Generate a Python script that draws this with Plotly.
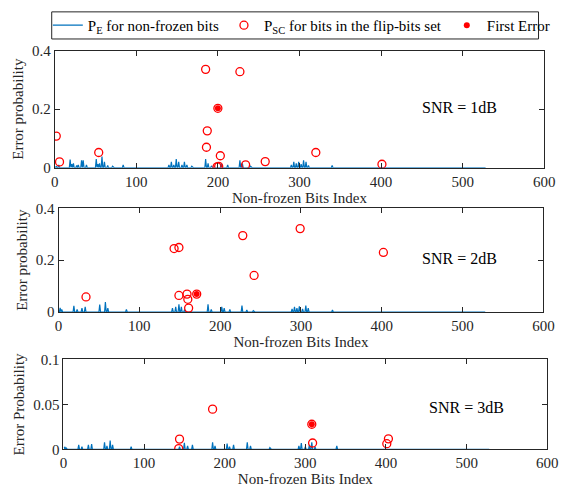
import plotly.graph_objects as go

# ---------------- data ----------------
n_bits = 528
bit_index = list(range(1, n_bits + 1))

# Peaks of P_E (non-frozen bit error probability); all other bits are ~0
pe_idx_1db = [2, 5, 19, 21, 23, 27, 29, 33, 35, 39, 51, 53, 55, 58, 61, 65, 71, 84,
              140, 143, 146, 149, 152, 156, 159, 162, 168, 185, 188, 192, 204, 212,
              227, 230, 240, 290, 293, 296, 299, 302, 305, 308, 311, 340]
pe_val_1db = [0.005, 0.01, 0.028, 0.012, 0.015, 0.008, 0.01, 0.025, 0.025, 0.01, 0.03,
              0.012, 0.015, 0.038, 0.02, 0.008, 0.005, 0.01, 0.01, 0.02, 0.01, 0.03,
              0.02, 0.01, 0.02, 0.01, 0.005, 0.03, 0.015, 0.005, 0.015, 0.01, 0.025,
              0.015, 0.005, 0.01, 0.02, 0.015, 0.02, 0.012, 0.025, 0.02, 0.008, 0.008]

pe_idx_2db = [2, 4, 19, 23, 29, 33, 51, 58, 61, 84, 141, 145, 149, 152, 156, 185, 189,
              202, 205, 212, 227, 233, 241, 289, 292, 295, 298, 302, 306, 309, 339]
pe_val_2db = [0.016, 0.01, 0.024, 0.01, 0.015, 0.02, 0.029, 0.038, 0.015, 0.01, 0.015,
              0.02, 0.03, 0.02, 0.01, 0.03, 0.01, 0.02, 0.015, 0.01, 0.025, 0.008, 0.005,
              0.012, 0.02, 0.015, 0.022, 0.012, 0.025, 0.015, 0.008]

pe_idx_3db = [1, 3, 19, 23, 31, 35, 51, 54, 58, 61, 84, 144, 150, 154, 160, 185, 188,
              203, 206, 211, 228, 232, 256, 292, 295, 300, 305, 308, 312, 339]
pe_val_3db = [0.003, 0.002, 0.005, 0.003, 0.005, 0.006, 0.008, 0.004, 0.010, 0.005,
              0.003, 0.003, 0.0075, 0.004, 0.005, 0.008, 0.004, 0.0065, 0.003, 0.005,
              0.008, 0.004, 0.002, 0.004, 0.007, 0.003, 0.005, 0.008, 0.003, 0.004]

# P_SC for bits in the flip-bits set
psc_idx_1db = [2, 6, 54, 185, 186, 187, 199, 200, 201, 203, 227, 234, 258, 320, 401]
psc_val_1db = [0.108, 0.020, 0.052, 0.336, 0.070, 0.126, 0.003, 0.203, 0.005, 0.041,
               0.328, 0.010, 0.021, 0.052, 0.012]

psc_idx_2db = [34, 143, 149, 149, 159, 160, 161, 171, 228, 242, 299, 402]
psc_val_2db = [0.058, 0.245, 0.249, 0.064, 0.069, 0.049, 0.015, 0.069, 0.295, 0.141,
               0.322, 0.230]

psc_idx_3db = [143, 144, 185, 308, 309, 401, 403]
psc_val_3db = [0.001, 0.0115, 0.0448, 0.028, 0.0072, 0.0064, 0.0118]

# First error position
first_idx = [200, 171, 308]
first_val = [0.203, 0.069, 0.028]

snr_labels = ["SNR = 1dB", "SNR = 2dB", "SNR = 3dB"]
y_titles = ["Error probability", "Error probability", "Error Probability"]
y_ranges = [[0, 0.4], [0, 0.4], [0, 0.1]]
y_ticks = [[0, 0.2, 0.4], [0, 0.2, 0.4], [0, 0.05, 0.1]]
y_ticktext = [["0", "0.2", "0.4"], ["0", "0.2", "0.4"], ["0", "0.05", "0.1"]]
x_ticks = [0, 100, 200, 300, 400, 500, 600]


def pe_curve(idx, val):
    curve = [0.0] * n_bits
    for i, v in zip(idx, val):
        curve[i - 1] = v
    return curve


pe_sets = [pe_curve(pe_idx_1db, pe_val_1db),
           pe_curve(pe_idx_2db, pe_val_2db),
           pe_curve(pe_idx_3db, pe_val_3db)]
psc_sets = [(psc_idx_1db, psc_val_1db), (psc_idx_2db, psc_val_2db),
            (psc_idx_3db, psc_val_3db)]

# ---------------- layout geometry (pixels) ----------------
W, H = 569, 502
panels = [  # left, right, top, bottom
    (52, 555, 44, 165),
    (56, 554, 207, 314),
    (61, 558, 363, 456),
]
snr_pos = [(468, 103), (468, 259), (475, 413)]
legend_box = (49, 549, 4, 32)  # left, right, top, bottom

FONT = "Liberation Serif, Times New Roman, serif"
AX = "#262626"
BLUE = "#0072BD"
RED = "#FF0000"

fig = go.Figure()

for k in range(3):
    xa = "x" if k == 0 else f"x{k+1}"
    ya = "y" if k == 0 else f"y{k+1}"
    show = k == 0
    fig.add_trace(go.Scatter(
        x=bit_index, y=pe_sets[k], mode="lines", xaxis=xa, yaxis=ya,
        line=dict(color=BLUE, width=1.2),
        name="P<sub>E</sub> for non-frozen bits", showlegend=show))
    fig.add_trace(go.Scatter(
        x=psc_sets[k][0], y=psc_sets[k][1], mode="markers", xaxis=xa, yaxis=ya,
        marker=dict(symbol="circle-open", size=8, color=RED, line=dict(width=1.3)),
        name="P<sub>SC</sub> for bits in the flip-bits set", showlegend=show))
    fig.add_trace(go.Scatter(
        x=[first_idx[k]], y=[first_val[k]], mode="markers", xaxis=xa, yaxis=ya,
        marker=dict(symbol="circle", size=6, color=RED),
        name="First Error", showlegend=show))

lb_l, lb_r, lb_t, lb_b = legend_box
layout = dict(
    width=W, height=H,
    margin=dict(l=0, r=0, t=0, b=0),
    paper_bgcolor="white", plot_bgcolor="white",
    font=dict(family=FONT, size=15, color=AX),
    legend=dict(orientation="h", x=(lb_l - 4) / W, xanchor="left",
                y=1 - (lb_t + lb_b) / 2 / H, yanchor="middle",
                borderwidth=0, bgcolor="rgba(0,0,0,0)",
                font=dict(family=FONT, size=15, color="black"),
                itemwidth=30, tracegroupgap=0),
    shapes=[dict(type="rect", xref="paper", yref="paper",
                 x0=lb_l / W, x1=lb_r / W, y0=1 - lb_b / H, y1=1 - lb_t / H,
                 line=dict(color=AX, width=1), fillcolor="rgba(0,0,0,0)")],
    annotations=[],
)

for k, (l, r, t, b) in enumerate(panels):
    xkey = "xaxis" if k == 0 else f"xaxis{k+1}"
    ykey = "yaxis" if k == 0 else f"yaxis{k+1}"
    ya = "y" if k == 0 else f"y{k+1}"
    xa = "x" if k == 0 else f"x{k+1}"
    common = dict(showline=True, linecolor=AX, linewidth=1, mirror="ticks",
                  ticks="inside", ticklen=5, tickcolor=AX, showgrid=False,
                  zeroline=False, tickfont=dict(family=FONT, size=15, color=AX))
    layout[xkey] = dict(domain=[l / W, r / W], anchor=ya, range=[0, 600],
                        tickvals=x_ticks, title=dict(text="Non-frozen Bits Index",
                        font=dict(family=FONT, size=15, color=AX), standoff=2),
                        **common)
    layout[ykey] = dict(domain=[1 - b / H, 1 - t / H], anchor=xa, range=y_ranges[k],
                        tickvals=y_ticks[k], ticktext=y_ticktext[k],
                        title=dict(text=y_titles[k], standoff=4,
                                   font=dict(family=FONT, size=15, color=AX)),
                        **common)
    sx, sy = snr_pos[k]
    layout["annotations"].append(dict(
        text=snr_labels[k], x=sx / W, y=1 - sy / H, xref="paper", yref="paper",
        showarrow=False, xanchor="center", yanchor="middle",
        font=dict(family=FONT, size=16, color="black")))

fig.update_layout(**layout)
fig.write_html("out.html")
